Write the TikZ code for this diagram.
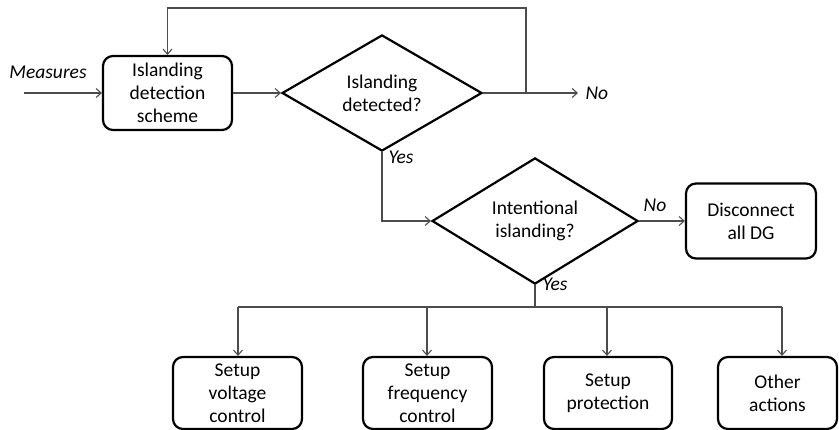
\documentclass[tikz,border=0pt]{standalone}
\usepackage{fontspec}
\setmainfont{Carlito}
\usetikzlibrary{shapes.geometric,arrows.meta}
\begin{document}
\begin{tikzpicture}[x=1pt,y=-1pt,
  every node/.style={font=\fontsize{19.5}{23}\selectfont},
  procbox/.style={draw=black,line width=2.2pt,rounded corners=10pt,align=center,inner sep=0pt},
  decision/.style={draw=black,line width=2.2pt,diamond,align=center,inner sep=0pt},
  flow/.style={draw=black!70,line width=1.1pt,-{Straight Barb[length=5pt,width=9pt]}},
  wire/.style={draw=black!70,line width=1.1pt},
  tag/.style={font=\fontsize{19.5}{23}\selectfont\itshape}]
\useasboundingbox (0,0) rectangle (839,430);

% main chain
\node[procbox,minimum width=129pt,minimum height=74pt] (detect) at (167.5,93) {Islanding\\detection\\scheme};
\node[decision,minimum width=200pt,minimum height=96pt] (isl) at (382,93) {Islanding\\detected?};
\node[decision,minimum width=206pt,minimum height=95pt] (intent) at (535,221) {Intentional\\islanding?};
\node[procbox,minimum width=130pt,minimum height=75pt] (disc) at (751,221) {Disconnect\\all DG};

% actions
\node[procbox,minimum width=129pt,minimum height=72pt] (volt) at (237.5,393) {Setup\\voltage\\control};
\node[procbox,minimum width=129pt,minimum height=72pt] (freq) at (427.5,393) {Setup\\frequency\\control};
\node[procbox,minimum width=128pt,minimum height=72pt] (prot) at (608,393) {Setup\\protection};
\node[procbox,minimum width=119pt,minimum height=72pt] (other) at (777.5,393) {Other\\actions};

% labels
\node[tag] (meas) at (48,72) {Measures};
\node[tag,anchor=west] (no1) at (582,93) {No};
\node[tag,anchor=west] (yes1) at (385,157) {Yes};
\node[tag] (no2) at (655,205) {No};
\node[tag,anchor=west] (yes2) at (539,284) {Yes};

% free ends and bends
\coordinate (in) at (24,93);
\coordinate (noend) at (578,93);
\coordinate (loop) at (526,93);
\coordinate (bus) at (535,307);
\coordinate (busL) at (238,307);
\coordinate (busF) at (427,307);
\coordinate (busP) at (607,307);
\coordinate (busR) at (782,307);

% connectors
\draw[flow] (in) -- (detect.west);
\draw[flow] (detect.east) -- (isl.west);
\draw[flow] (isl.east) -- (noend);
\draw[flow] (loop) -- ++(0,-85) -| (detect.north);
\draw[flow] (isl.south) |- (intent.west);
\draw[flow] (intent.east) -- (disc.west);
\draw[wire] (intent.south) -- (bus);
\draw[wire] (busL) -- (busR);
\draw[flow] (busL) -- (busL |- volt.north);
\draw[flow] (busF) -- (busF |- freq.north);
\draw[flow] (busP) -- (busP |- prot.north);
\draw[flow] (busR) -- (busR |- other.north);
\end{tikzpicture}
\end{document}
